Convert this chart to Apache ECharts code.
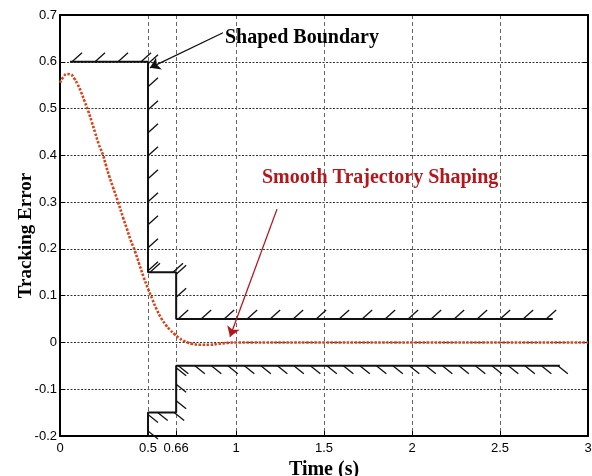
<!DOCTYPE html>
<html>
<head>
<meta charset="utf-8">
<script src="https://cdn.jsdelivr.net/npm/echarts@6/dist/echarts.min.js"></script>
<style>html,body{margin:0;padding:0;background:#fff}#c{width:592px;height:476px}</style>
</head>
<body>
<div id="c"></div>
<script>
// ---- data ----
const xTickValues = [0, 0.5, 0.66, 1, 1.5, 2, 2.5, 3];
const timeS = [0, 0.02, 0.04, 0.06, 0.08, 0.1, 0.12, 0.14, 0.16, 0.18, 0.2, 0.22, 0.245, 0.26, 0.28, 0.3, 0.33, 0.36, 0.38, 0.4, 0.426, 0.45, 0.475, 0.5, 0.525, 0.55, 0.575, 0.6, 0.625, 0.65, 0.675, 0.7, 0.725, 0.75, 0.8, 0.85, 0.9, 0.95, 1.0, 1.5, 2.0, 2.5, 3.0];
const trackingError = [0.555, 0.568, 0.574, 0.573, 0.565, 0.552, 0.535, 0.515, 0.495, 0.472, 0.448, 0.424, 0.4, 0.38, 0.355, 0.333, 0.3, 0.265, 0.243, 0.22, 0.195, 0.168, 0.14, 0.115, 0.092, 0.07, 0.052, 0.038, 0.027, 0.018, 0.01, 0.004, 0, -0.003, -0.005, -0.005, -0.003, -0.001, 0, 0, 0, 0, 0];
const upperBoundary = [[0.057, 0.6], [0.5, 0.6], [0.5, 0.15], [0.66, 0.15], [0.66, 0.05], [2.8, 0.05]];
const lowerBoundary = [[0.5, -0.2], [0.5, -0.15], [0.66, -0.15], [0.66, -0.05], [2.84, -0.05]];
const arrowBoundary = [[0.926, 0.662], [0.511, 0.587]];
const arrowTrajectory = [[1.233, 0.285], [0.966, 0.012]];

// ---- build ----
function segs(pts, dir) {
  const out = [];
  for (let i = 0; i < pts.length - 1; i++) out.push([pts[i][0], pts[i][1], pts[i + 1][0], pts[i + 1][1], dir]);
  return out;
}
const hatchData = segs(upperBoundary, 1).concat(segs(lowerBoundary, -1));
const curve = timeS.map((t, i) => [t, trackingError[i]]);

const serif = "'Liberation Serif', 'Times New Roman', serif";
const narrow = "'Liberation Sans Narrow', 'Arial Narrow', 'Liberation Sans', sans-serif";

const chart = echarts.init(document.getElementById('c'), null, {renderer: 'canvas'});
chart.setOption({
  animation: false,
  backgroundColor: '#fff',
  grid: {left: 60, right: 4, top: 15, bottom: 40, outerBoundsMode: 'none', containLabel: false},
  xAxis: [{
    type: 'value', min: 0, max: 3, interval: 0.5,
    name: 'Time (s)', nameLocation: 'middle', nameGap: 24, nameMoveOverlap: false,
    nameTextStyle: {fontFamily: serif, fontWeight: 'bold', fontSize: 20, color: '#000'},
    axisLine: {show: true, onZero: false, lineStyle: {color: '#000', width: 2}},
    axisTick: {show: true, inside: true, length: 5, customValues: xTickValues, lineStyle: {color: '#000'}},
    axisLabel: {customValues: xTickValues, margin: 6, fontFamily: narrow, fontSize: 13, color: '#000',
      formatter: v => String(v)},
    splitLine: {show: true, lineStyle: {color: '#666', type: [4, 3], width: 1}}
  }, {
    type: 'value', min: 0, max: 3, position: 'top',
    axisLine: {show: true, onZero: false, lineStyle: {color: '#000', width: 2}},
    axisTick: {show: false}, axisLabel: {show: false}, splitLine: {show: false}
  }],
  yAxis: [{
    type: 'value', min: -0.2, max: 0.7, interval: 0.1,
    name: 'Tracking Error', nameLocation: 'middle', nameGap: 24, nameRotate: 90, nameMoveOverlap: false,
    nameTextStyle: {fontFamily: serif, fontWeight: 'bold', fontSize: 19, color: '#000', padding: [0, 20, 0, 0]},
    axisLine: {show: true, onZero: false, lineStyle: {color: '#000', width: 2}},
    axisTick: {show: true, inside: true, length: 5, lineStyle: {color: '#000'}},
    axisLabel: {margin: 3, fontFamily: narrow, fontSize: 13, color: '#000',
      formatter: v => String(Math.round(v * 10) / 10)},
    splitLine: {show: true, lineStyle: {color: '#333', type: [2, 1.5], width: 1}}
  }, {
    type: 'value', min: -0.2, max: 0.7, interval: 0.1, position: 'right',
    axisLine: {show: true, onZero: false, lineStyle: {color: '#000', width: 2}},
    axisTick: {show: true, inside: true, length: 5, lineStyle: {color: '#000'}},
    axisLabel: {show: false}, splitLine: {show: false}
  }],
  series: [{
    type: 'line', name: 'upper', data: upperBoundary, showSymbol: false, symbol: 'none',
    lineStyle: {color: '#111', width: 2}, z: 3
  }, {
    type: 'line', name: 'lower', data: lowerBoundary, showSymbol: false, symbol: 'none',
    lineStyle: {color: '#111', width: 2}, z: 3
  }, {
    type: 'custom', name: 'hatch', data: hatchData, z: 3,
    dimensions: ['x1', 'y1', 'x2', 'y2', 'dir'],
    encode: {x: [0, 2], y: [1, 3]},
    renderItem: function (params, api) {
      const p1 = api.coord([api.value(0), api.value(1)]);
      const p2 = api.coord([api.value(2), api.value(3)]);
      const dir = api.value(4);
      const sp = dir > 0 ? 23 : 16.5;
      const dx = p2[0] - p1[0], dy = p2[1] - p1[1];
      const L = Math.hypot(dx, dy);
      const children = [];
      const n = Math.floor(L / sp);
      for (let i = 0; i <= n; i++) {
        let f = L === 0 ? 0 : (i * sp + 2) / L;
        if (f > 1) break;
        if (dir < 0) f = 1 - f;
        const x = p1[0] + dx * f, y = p1[1] + dy * f;
        children.push({type: 'line', shape: {x1: x, y1: y, x2: x + 10, y2: y + (dir > 0 ? -9 : 8)},
          style: {stroke: '#111', lineWidth: 1.3}});
      }
      return {type: 'group', children: children};
    }
  }, {
    type: 'line', name: 'Smooth Trajectory Shaping', data: curve, smooth: true, showSymbol: false, symbol: 'none',
    lineStyle: {color: '#d9431c', width: 2.6, type: [2.5, 1.5]}, z: 5
  }, {
    type: 'lines', coordinateSystem: 'cartesian2d', z: 6,
    symbol: ['none', 'arrow'], symbolSize: [7, 10],
    data: [{coords: arrowBoundary, lineStyle: {color: '#111', width: 1.3, opacity: 1}},
           {coords: arrowTrajectory, lineStyle: {color: '#b3171c', width: 1.3, opacity: 1}}]
  }],
  graphic: [{
    type: 'text', left: 225, top: 28, z: 10,
    style: {text: 'Shaped Boundary', font: "bold 20px " + serif, fill: '#000'}
  }, {
    type: 'text', left: 262, top: 168, z: 10,
    style: {text: 'Smooth Trajectory Shaping', font: "bold 20px " + serif, fill: '#b3171c'}
  }]
});
</script>
</body>
</html>
